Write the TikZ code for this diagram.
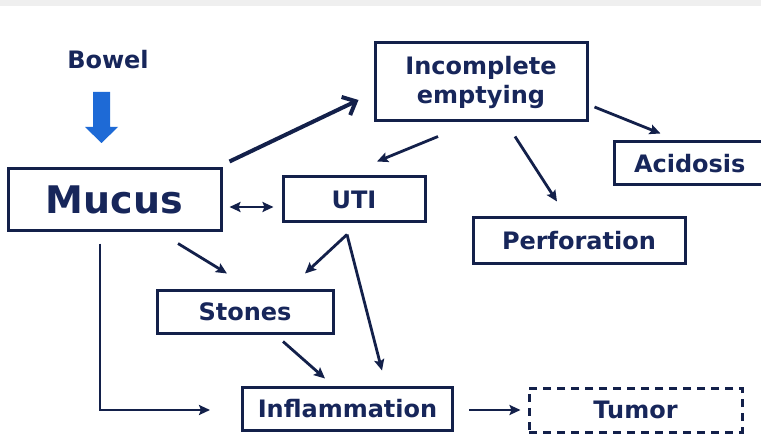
\documentclass[tikz,border=0pt]{standalone}
\usepackage{fontspec}
\setmainfont{DejaVu Sans}
\usetikzlibrary{arrows.meta,calc}
\definecolor{navy}{HTML}{13204A}
\definecolor{navytext}{HTML}{17265A}
\definecolor{bluearrow}{HTML}{1E6AD6}
\definecolor{topband}{HTML}{EFEFEF}
\begin{document}
\begin{tikzpicture}[x=1pt,y=-1pt,
  box/.style={draw=navy,line width=3pt,rectangle,inner sep=0pt,text=navytext,
    font=\fontsize{24}{29}\selectfont\bfseries,align=center},
  conn/.style={draw=navy,line width=2.8pt,-{Stealth[length=11pt,width=10pt,inset=2pt]}},
  bigconn/.style={draw=navy,line width=4pt,-{Straight Barb[length=11pt,width=20pt,line width=4pt]}}
]
\useasboundingbox (0,0) rectangle (761,441);
\fill[white] (0,0) rectangle (761,441);
\fill[topband] (0,0) rectangle (761,6);

\begin{scope}
\clip (0,0) rectangle (761,441);
\node[box,minimum width=213pt,minimum height=61pt,font=\fontsize{38}{40}\selectfont\bfseries] (mucus) at (114.5,199.5) {Mucus};
\node[box,minimum width=142pt,minimum height=45pt] (uti) at (354,199.5) {UTI};
\node[box,minimum width=212pt,minimum height=78pt] (inc) at (481,82) {Incomplete\\emptying};
\node[box,minimum width=156pt,minimum height=43pt,text width=156pt,align=left] (acid) at (692,163.5) {\hspace*{20pt}Acidosis};
\node[box,minimum width=212pt,minimum height=45pt] (perf) at (579,240.5) {Perforation};
\node[box,minimum width=176pt,minimum height=43pt] (stones) at (245,311.5) {Stones};
\node[box,minimum width=210pt,minimum height=43pt] (infl) at (347.5,408.5) {Inflammation};
\node[box,dashed,dash pattern=on 8pt off 6pt,minimum width=213pt,minimum height=44pt] (tumor) at (635.5,410) {Tumor};
\end{scope}

\node[text=navytext,font=\fontsize{24}{26}\selectfont\bfseries] (bowel) at (108,60) {Bowel};

% blue block arrow
\fill[bluearrow] (93,92) -- (110,92) -- (110,127) -- (118,127) -- (101.5,143) -- (85,127) -- (93,127) -- cycle;

% connectors
\draw[bigconn] ($(mucus.north east)+(7,-6)$) -- ($(inc.west)+(-15,18)$);
\draw[conn,{Stealth[length=11pt,width=10pt,inset=2pt]}-{Stealth[length=11pt,width=10pt,inset=2pt]}] ($(mucus.east)+(7,7.5)$) -- ($(uti.west)+(-8,7.5)$);
\draw[conn] ($(inc.south)+(-43,14)$) -- ($(uti.north)+(23,-14)$);
\draw[conn] ($(inc.south)+(34,14)$) -- ($(perf.north)+(-22,-15)$);
\draw[conn] ($(inc.east)+(6,25)$) -- ($(acid.north west)+(48,-7)$);
\draw[conn] ($(mucus.south)+(63.5,12)$) -- ($(stones.north)+(-18,-15)$);
\draw[conn] ($(uti.south)+(-7,11)$) -- ($(stones.north)+(60,-15)$);
\draw[conn] ($(uti.south)+(-7,11)$) -- ($(infl.north)+(34.5,-15)$);
\draw[conn] ($(stones.south)+(38,7)$) -- ($(infl.north)+(-22.5,-7)$);
\draw[conn] ($(mucus.south)+(-14.5,12)$) |- ($(infl.west)+(-31,1.5)$);
\draw[conn] ($(infl.east)+(15,1.5)$) -- ($(tumor.west)+(-7,0)$);
\end{tikzpicture}
\end{document}
